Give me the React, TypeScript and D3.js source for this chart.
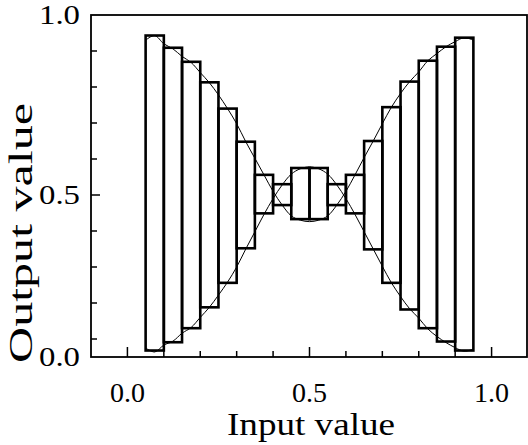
import React from 'react';
import * as d3 from 'd3';

// Bin edges of the input value (18 bins)
const binEdges = [0.05, 0.10, 0.15, 0.20, 0.25, 0.30, 0.35, 0.40, 0.45, 0.50, 0.55, 0.60, 0.65, 0.70, 0.75, 0.80, 0.85, 0.90, 0.95];
// Upper / lower output value of each bin's box
const barHigh = [0.943, 0.909, 0.870, 0.813, 0.740, 0.648, 0.556, 0.530, 0.575, 0.575, 0.530, 0.556, 0.650, 0.744, 0.815, 0.873, 0.912, 0.937];
const barLow = [0.068, 0.091, 0.130, 0.188, 0.256, 0.352, 0.449, 0.472, 0.433, 0.433, 0.472, 0.449, 0.349, 0.256, 0.182, 0.130, 0.093, 0.068];

// Thin curve: two branches sampled along the input value
const curveX = [0.05, 0.075, 0.10, 0.125, 0.15, 0.175, 0.20, 0.225, 0.25, 0.275, 0.30, 0.325, 0.35, 0.375, 0.40, 0.425, 0.45, 0.475, 0.50,
  0.525, 0.55, 0.575, 0.60, 0.625, 0.65, 0.675, 0.70, 0.725, 0.75, 0.775, 0.80, 0.825, 0.85, 0.875, 0.90, 0.925, 0.95];
const branchA = [0.930, 0.943, 0.920, 0.906, 0.885, 0.868, 0.840, 0.812, 0.778, 0.740, 0.698, 0.648, 0.602, 0.556, 0.510, 0.472, 0.442, 0.430, 0.426,
  0.430, 0.442, 0.472, 0.510, 0.556, 0.604, 0.650, 0.698, 0.744, 0.782, 0.815, 0.842, 0.873, 0.893, 0.912, 0.926, 0.937, 0.930];
const branchB = [0.075, 0.064, 0.083, 0.094, 0.116, 0.132, 0.160, 0.188, 0.222, 0.258, 0.300, 0.350, 0.398, 0.446, 0.490, 0.528, 0.558, 0.573, 0.578,
  0.573, 0.558, 0.528, 0.490, 0.446, 0.398, 0.350, 0.302, 0.256, 0.218, 0.184, 0.158, 0.128, 0.107, 0.090, 0.076, 0.066, 0.072];

const xTicks = [0, 0.1, 0.2, 0.3, 0.4, 0.5, 0.6, 0.7, 0.8, 0.9, 1.0];
const xMajor = [0, 0.5, 1.0];
const xTickLabels = ['0.0', '0.5', '1.0'];
const yTicks = [0.1, 0.2, 0.3, 0.4, 0.5, 0.6, 0.7, 0.8, 0.9];
const yMajor = [0.5];
const yTickLabelValues = [0.0, 0.5, 1.0];
const yTickLabels = ['0.0', '0.5', '1.0'];

const W = 528;
const H = 445;
const FONT = '"Liberation Serif", "Times New Roman", Times, serif';

export default function App() {
  const x = d3.scaleLinear().domain([-0.1, 1.1]).range([91, 528]);
  const y = d3.scaleLinear().domain([0, 1]).range([375, 15]);
  const frameLeft = x(-0.1);
  const frameRight = x(1.1) - 1;
  const frameTop = y(1.0);
  const frameBottom = y(0.05);

  const line = d3
    .line<number>()
    .x((_, i) => x(curveX[i]))
    .y((d) => y(d))
    .curve(d3.curveCatmullRom.alpha(0.5));

  return (
    <svg width={W} height={H} style={{ position: 'absolute', left: 0, top: 0, background: '#fff' }}>
      <rect x={0} y={0} width={W} height={H} fill="#fff" />
      {/* boxes */}
      {barHigh.map((hi, i) => (
        <rect
          key={'b' + i}
          x={x(binEdges[i])}
          y={y(hi)}
          width={x(binEdges[i + 1]) - x(binEdges[i])}
          height={y(barLow[i]) - y(hi)}
          fill="none"
          stroke="#000"
          strokeWidth={2.6}
        />
      ))}
      {/* curves */}
      <path d={line(branchA) || ''} fill="none" stroke="#000" strokeWidth={1} />
      <path d={line(branchB) || ''} fill="none" stroke="#000" strokeWidth={1} />
      {/* frame */}
      <rect
        x={frameLeft}
        y={frameTop}
        width={frameRight - frameLeft}
        height={frameBottom - frameTop}
        fill="none"
        stroke="#000"
        strokeWidth={1.8}
      />
      {/* x ticks */}
      {xTicks.map((t) => {
        const len = xMajor.some((m) => Math.abs(m - t) < 1e-9) ? 10 : 6;
        return <line key={'xt' + t} x1={x(t)} x2={x(t)} y1={frameBottom} y2={frameBottom - len} stroke="#000" strokeWidth={1.5} />;
      })}
      {/* y ticks */}
      {yTicks.map((t) => {
        const len = yMajor.some((m) => Math.abs(m - t) < 1e-9) ? 9 : 6;
        return <line key={'yt' + t} x1={frameLeft} x2={frameLeft + len} y1={y(t)} y2={y(t)} stroke="#000" strokeWidth={1.5} />;
      })}
      {/* x tick labels */}
      {xMajor.map((t, i) => (
        <text key={'xl' + t} x={x(t)} y={402} textAnchor="middle" style={{ fontFamily: FONT }} fontSize={28} fill="#000">
          {xTickLabels[i]}
        </text>
      ))}
      {/* y tick labels */}
      {yTickLabelValues.map((t, i) => {
        const py = Math.min(Math.max(y(t), frameTop), frameBottom);
        return (
          <text key={'yl' + t} x={80} y={py} dy="0.34em" textAnchor="end" style={{ fontFamily: FONT }} fontSize={27} fill="#000"
            textLength={41} lengthAdjust="spacingAndGlyphs">
            {yTickLabels[i]}
          </text>
        );
      })}
      {/* axis titles */}
      <text x={311} y={435} textAnchor="middle" style={{ fontFamily: FONT }} fontSize={32} fill="#000" textLength={168} lengthAdjust="spacingAndGlyphs">
        Input value
      </text>
      <text
        transform={`translate(32, ${233}) rotate(-90)`}
        textAnchor="middle"
        style={{ fontFamily: FONT }}
        fontSize={33}
        fill="#000"
        textLength={260}
        lengthAdjust="spacingAndGlyphs"
      >
        Output value
      </text>
    </svg>
  );
}
